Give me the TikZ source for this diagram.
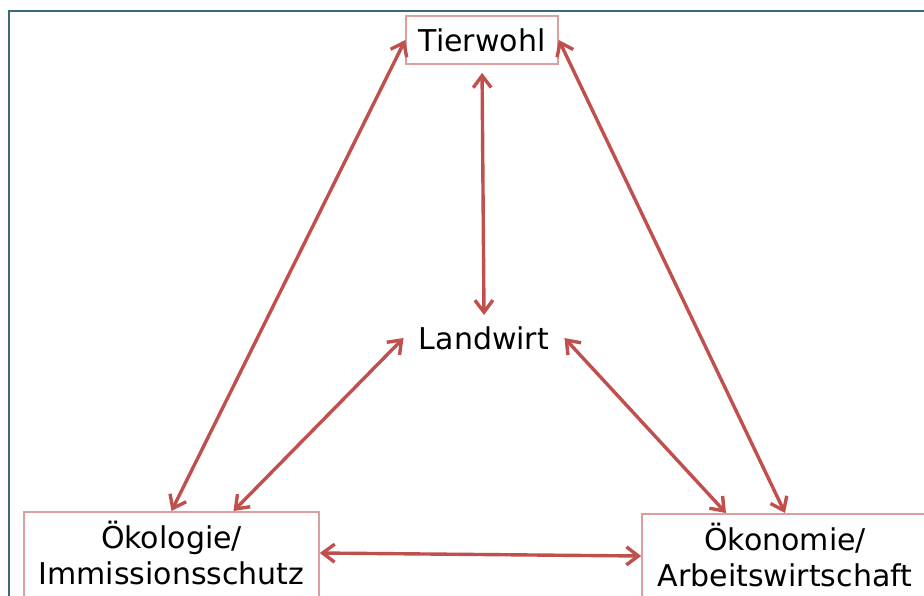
\documentclass[tikz,border=0pt]{standalone}
\usepackage{fontspec}
\setmainfont{DejaVu Sans}
\usetikzlibrary{arrows.meta}
\definecolor{pfeilrot}{HTML}{C0504D}
\definecolor{rahmen}{HTML}{3A687D}
\tikzset{
  ziel/.style={draw=pfeilrot!55!white, line width=0.8pt, inner xsep=0pt,
    font=\fontsize{15}{18}\selectfont},
  mitte/.style={inner xsep=7.5pt, inner ysep=5.5pt,
    font=\fontsize{15}{18}\selectfont},
  bezug/.style={pfeilrot, line width=1.7pt,
    {Straight Barb[length=6pt,width=9pt]}-{Straight Barb[length=6pt,width=9pt]}}
}
\begin{document}
\begin{tikzpicture}[x=0.5pt,y=-0.5pt]
      \useasboundingbox (0,0) rectangle (924,595);
      \clip (0,0) rectangle (924,595);
      \draw[rahmen, line width=1.3pt] (9,600) -- (9,11) -- (930,11);
      \draw
        (482,40) node[ziel, minimum width=76pt, minimum height=24pt, inner ysep=0pt] (tier){Tierwohl}
        (484,338) node[mitte] (bauer){Landwirt}
        (171.5,511) node[ziel, anchor=north, minimum width=147.5pt, inner ysep=4.5pt, align=center] (oeko){Ökologie/\\Immissionsschutz\rule[-14pt]{0pt}{0pt}}
        (785,513) node[ziel, anchor=north, minimum width=143pt, inner ysep=4.5pt, align=center] (oekon){Ökonomie/\\Arbeitswirtschaft\rule[-14pt]{0pt}{0pt}};
      \begin{scope}[bezug]
        \draw (tier.west) to (oeko.north);
        \draw (tier.east) to (oekon.north);
        \draw[shorten <=4pt] (tier.south) to (bauer.north);
        \draw (bauer.west) to ([xshift=31pt]oeko.north);
        \draw (bauer.east) to ([xshift=-29.5pt]oekon.north);
        \draw ([yshift=-21pt]oeko.north east) to ([yshift=-21.5pt]oekon.north west);
      \end{scope}
    \end{tikzpicture}
\end{document}
